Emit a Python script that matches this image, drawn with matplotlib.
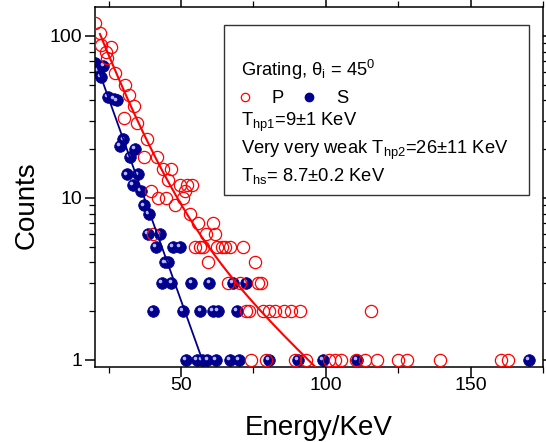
import matplotlib
matplotlib.use('Agg')
import matplotlib.pyplot as plt
import matplotlib.ticker as mticker
from matplotlib.patches import Rectangle
from matplotlib.transforms import offset_copy
import numpy as np

plt.rcParams['font.family'] = 'Liberation Sans'
plt.rcParams['mathtext.fontset'] = 'custom'
plt.rcParams['mathtext.rm'] = 'Liberation Sans'
plt.rcParams['mathtext.it'] = 'Liberation Sans:italic'

# P polarisation, open circles
p_energy = [20.3, 22.1, 22.2, 24.1, 24.4, 25.9, 27.3, 30.2, 30.5, 32.1,
            33.6, 34.8, 37.3, 38.2, 39.6, 40.4, 41.6, 42.1, 43.9, 44.7,
            45.6, 46.7, 47.9, 49.6, 50.7, 51.4, 51.9, 53.1, 53.8, 55.9,
            58.8, 61.1, 61.9,
            54.8, 56.5, 57.6, 62.3, 64.0, 65.1, 66.9, 71.4,
            59.4, 75.5,
            66.3, 70.3, 76.6, 77.5,
            72.6, 73.4, 78.3, 80.4, 82.4, 85.5, 87.9, 91.0, 115.5,
            74.3, 79.5, 89.3, 93.1, 101.0, 103.1, 105.4, 110.5, 113.4,
            117.6, 124.9, 128.0, 139.3, 160.5, 162.9]
p_counts = [120, 104, 88, 80, 73, 86, 59, 31, 50, 43,
            37, 29, 18, 23, 11, 6, 18, 10, 15, 10,
            13, 15, 9, 12, 10, 11, 12, 8, 12, 7,
            6, 7, 6,
            5, 5, 5, 5, 5, 5, 5, 5,
            4, 4,
            3, 3, 3, 3,
            2, 2, 2, 2, 2, 2, 2, 2, 2,
            1, 1, 1, 1, 1, 1, 1, 1, 1,
            1, 1, 1, 1, 1, 1]

# S polarisation, filled
s_energy = [20.3, 21.3, 22.4, 23.2, 24.8, 26.7, 27.9, 28.9, 30.1, 31.2,
            32.4, 33.5, 34.1, 35.2, 36.2, 37.3, 39.0, 38.7, 42.7,
            41.3, 47.1, 49.6, 44.4, 45.6,
            43.3, 46.7, 53.6, 59.8, 68.0, 72.6,
            40.2, 50.6, 56.7, 60.9, 62.8, 69.2,
            51.8, 55.4, 57.1, 59.1, 62.0, 67.0, 70.1, 80.4, 90.4, 99.1,
            110.8, 170.1]
s_counts = [68, 61, 56, 65, 42, 41, 40, 21, 23, 14,
            18, 12, 20, 14, 11, 9, 8, 6, 6,
            5, 5, 5, 4, 4,
            3, 3, 3, 3, 3, 3,
            2, 2, 2, 2, 2, 2,
            1, 1, 1, 1, 1, 1, 1, 1, 1, 1,
            1, 1]

# fit temperatures (keV) and amplitudes
t_hp1, t_hp2, t_hs = 9.0, 26.0, 8.7
a_hp1, a_hp2, a_hs = 1007.0, 36.0, 730.0
p_fit_range = (22.0, 100.0)
s_fit_range = (20.0, 60.0)

red = '#ff0000'
navy = '#00008c'

fig = plt.figure(figsize=(5.46, 4.42), dpi=100)
ax = fig.add_axes([0.174, 0.1697, 0.8205, 0.8145])

ax.plot(s_energy, s_counts, 'o', ms=8.4, color=navy, mec=navy, mew=0.5, zorder=2)
shine = offset_copy(ax.transData, fig=fig, x=-1.8, y=1.8, units='dots')
ax.plot(s_energy, s_counts, 'o', ms=2.6, color='#b8b8ff', mew=0, transform=shine, zorder=2.1)
ax.plot(p_energy, p_counts, 'o', ms=8.8, mfc='none', mec=red, mew=0.9, zorder=3)

e_p = np.linspace(*p_fit_range, 300)
ax.plot(e_p, a_hp1 * np.exp(-e_p / t_hp1) + a_hp2 * np.exp(-e_p / t_hp2),
        color=red, lw=1.5, zorder=4)
e_s = np.linspace(*s_fit_range, 200)
ax.plot(e_s, a_hs * np.exp(-e_s / t_hs), color=navy, lw=1.3, zorder=4)

ax.set_yscale('log')
ax.set_xlim(20.3, 175)
ax.set_ylim(0.905, 151)
ax.xaxis.set_major_locator(mticker.MultipleLocator(50))
ax.xaxis.set_minor_locator(mticker.MultipleLocator(25))
ax.yaxis.set_major_locator(mticker.FixedLocator([1, 10, 100]))
ax.yaxis.set_major_formatter(mticker.FuncFormatter(lambda v, _: f'{v:g}'))
ax.yaxis.set_minor_formatter(mticker.NullFormatter())

for s in ax.spines.values():
    s.set_linewidth(1.1)
ax.tick_params(which='both', direction='out', top=True, right=True, labelsize=14)
ax.tick_params(which='major', length=7, width=1.1)
ax.tick_params(which='minor', length=4.5, width=0.9)
ax.tick_params(axis='x', which='major', pad=0.5)
ax.tick_params(axis='y', which='major', pad=2)

ax.set_xlabel('Energy/KeV', fontsize=20)
ax.xaxis.label.set_va('baseline')
ax.xaxis.set_label_coords(0.5, -0.19)
ax.set_ylabel('Counts', fontsize=20)
ax.yaxis.label.set_va('baseline')
ax.yaxis.set_label_coords(-0.138, 0.449)

# annotation box
ax.add_patch(Rectangle((0.288, 0.478), 0.681, 0.472, transform=ax.transAxes,
                       fill=False, ec='#333333', lw=1.0, zorder=5))
fs = 13.2
tx = 0.325
ax.text(tx, 0.808, r'Grating, θ$_\mathrm{i}$ = 45$^\mathrm{0}$', transform=ax.transAxes,
        fontsize=fs, va='baseline')
ax.plot([0.335], [0.75], 'o', ms=6, mfc='none', mec=red, mew=0.9, transform=ax.transAxes)
ax.text(0.394, 0.7325, 'P', transform=ax.transAxes, fontsize=fs, va='baseline')
ax.plot([0.478], [0.75], 'o', ms=6, color=navy, transform=ax.transAxes)
ax.text(0.539, 0.7325, 'S', transform=ax.transAxes, fontsize=fs, va='baseline')
ax.text(tx, 0.669, r'T$_\mathrm{hp1}$=9±1 KeV', transform=ax.transAxes,
        fontsize=fs, va='baseline')
ax.text(tx, 0.591, r'Very very weak T$_\mathrm{hp2}$=26±11 KeV', transform=ax.transAxes,
        fontsize=fs, va='baseline')
ax.text(tx, 0.517, r'T$_\mathrm{hs}$= 8.7±0.2 KeV', transform=ax.transAxes,
        fontsize=fs, va='baseline')

fig.savefig('out.png', dpi=100)
